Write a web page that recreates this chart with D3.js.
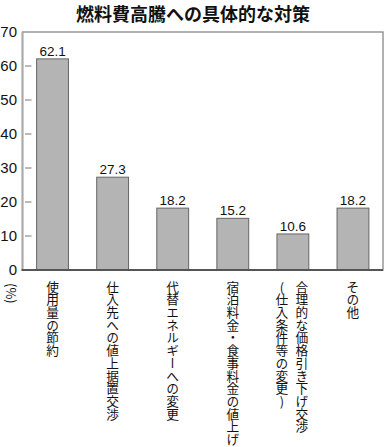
<!DOCTYPE html>
<html><head><meta charset="utf-8">
<script src="https://cdn.jsdelivr.net/npm/d3@7"></script>
<style>
body{margin:0;background:#fff;}
svg{display:block;}
</style></head>
<body>
<script>
const title = "燃料費高騰への具体的な対策";
const categories = [
  ["使用量の節約"],
  ["仕入先への値上据置交渉"],
  ["代替エネルギーへの変更"],
  ["宿泊料金・食事料金の値上げ"],
  ["合理的な価格引き下げ交渉","(仕入条件等の変更)"],
  ["その他"]
];
const values = [62.1, 27.3, 18.2, 15.2, 10.6, 18.2];
const valueLabels = ["62.1","27.3","18.2","15.2","10.6","18.2"];
const yTicks = [0,10,20,30,40,50,60,70];
const unitLabel = "(%)";

const W = 386, H = 447;
const m = {left: 22.5, right: 3, top: 32, bottom: 177};
const svg = d3.select("body").append("svg").attr("width", W).attr("height", H);

const x = d3.scaleBand().domain(d3.range(categories.length))
  .range([m.left, W - m.right]).paddingInner(0.47).paddingOuter(0.235);
const y = d3.scaleLinear().domain([0, 70]).range([H - m.bottom, m.top]);

const numFont = "'Liberation Sans', Arial, sans-serif";
const jpFont = "'Noto Sans CJK JP', sans-serif";

svg.append("text").attr("x", W/2).attr("y", 21).attr("text-anchor","middle")
  .attr("font-family", jpFont).attr("font-weight","bold").attr("font-size", 18)
  .attr("fill","#111").text(title);

// frame
svg.append("rect").attr("x", m.left).attr("y", m.top)
  .attr("width", W - m.right - m.left).attr("height", y(0) - m.top)
  .attr("fill","none").attr("stroke","#888").attr("stroke-width",1.3);
// left axis line (thicker, light)
svg.append("line").attr("x1", m.left).attr("x2", m.left).attr("y1", m.top).attr("y2", y(0))
  .attr("stroke","#aaa").attr("stroke-width",2);

// y ticks
const yAxis = d3.axisLeft(y).tickValues(yTicks).tickSize(0).tickPadding(6);
const gy = svg.append("g").attr("transform", `translate(${m.left},0)`).call(yAxis);
gy.select(".domain").remove();
gy.selectAll("text").attr("font-family", numFont).attr("font-size", 15).attr("fill","#111").attr("x",-5.5);
svg.selectAll(".ytick").data(yTicks.filter(d => d > 0 && d < 70)).enter().append("line")
  .attr("x1", m.left + 2.5).attr("x2", m.left + 9)
  .attr("y1", d => y(d)).attr("y2", d => y(d))
  .attr("stroke","#777").attr("stroke-width",1);

// bars
svg.selectAll(".bar").data(values).enter().append("rect")
  .attr("x", (d,i) => x(i)).attr("width", x.bandwidth())
  .attr("y", d => y(d)).attr("height", d => y(0) - y(d))
  .attr("fill","#b4b4b4").attr("stroke","#666").attr("stroke-width",1);

svg.selectAll(".vl").data(values).enter().append("text")
  .attr("x", (d,i) => x(i) + x.bandwidth()/2).attr("y", d => y(d) - 3)
  .attr("text-anchor","middle").attr("font-family", numFont).attr("font-size", 13.5)
  .attr("fill","#111").text((d,i) => valueLabels[i]);

// bottom axis
svg.append("line").attr("x1", m.left - 1).attr("x2", W - m.right).attr("y1", y(0)).attr("y2", y(0))
  .attr("stroke","#555").attr("stroke-width",2);

// category labels vertical
const colGap = 20;
categories.forEach((lines, i) => {
  const cx = x(i) + x.bandwidth()/2;
  const n = lines.length;
  lines.forEach((t, j) => {
    const off = n === 1 ? 0 : (n - 1) * colGap / 2 - j * colGap - 1;
    svg.append("text")
      .attr("x", cx + off).attr("y", 280.5)
      .attr("font-family", jpFont).attr("font-size", 12.7).attr("fill","#111")
      .style("writing-mode","vertical-rl").style("text-orientation","upright")
      .attr("text-anchor","start")
      .text(t);
  });
});

// unit label
svg.append("text").attr("x", 11).attr("y", 283)
  .attr("font-family", jpFont).attr("font-size", 13).attr("fill","#111")
  .style("writing-mode","vertical-rl")
  .text(unitLabel);
</script>
</body></html>
